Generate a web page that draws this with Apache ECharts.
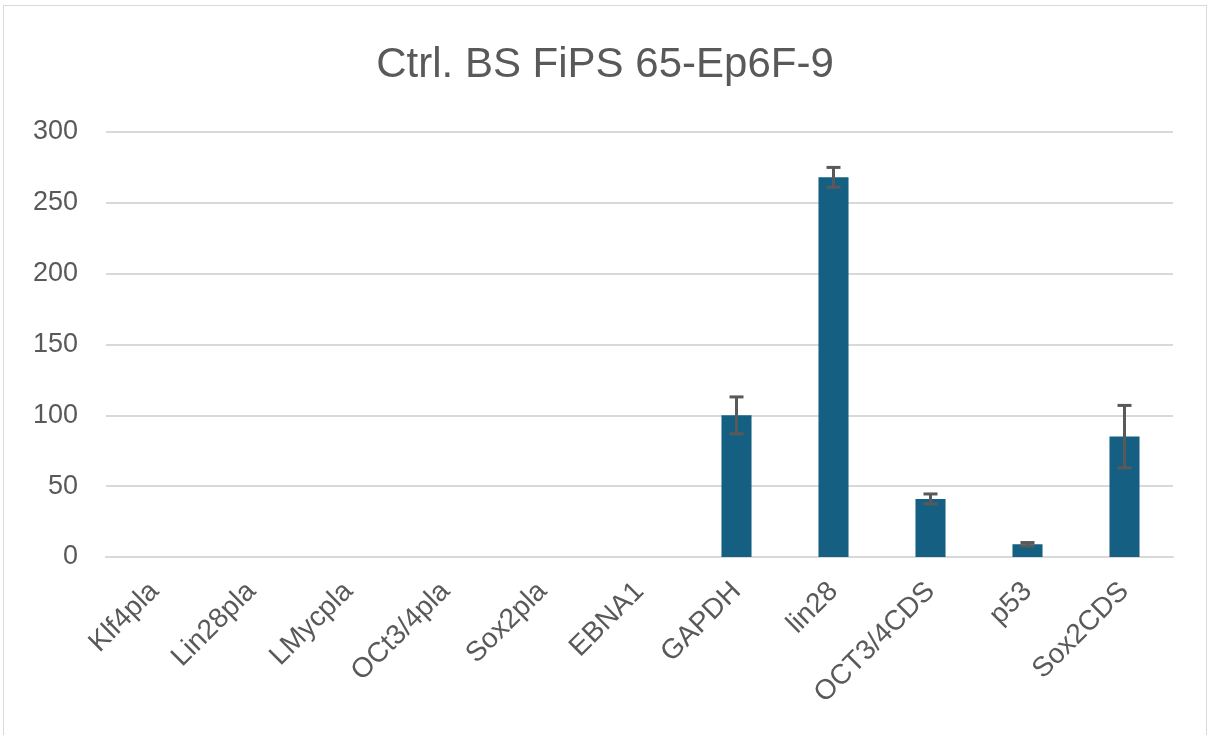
<!DOCTYPE html>
<html>
<head>
<meta charset="utf-8">
<script src="https://cdn.jsdelivr.net/npm/echarts@6/dist/echarts.min.js"></script>
<style>
  html, body { margin: 0; padding: 0; background: #fff; }
  #main { position: absolute; left: 3px; top: 5px; width: 1204px; height: 732px;
          border: 1px solid #d9d9d9; border-bottom: none; box-sizing: border-box; }
</style>
</head>
<body>
<div id="main"></div>
<script>
// genes on the x axis
const categories = ["Klf4pla", "Lin28pla", "LMycpla", "OCt3/4pla", "Sox2pla", "EBNA1",
  "GAPDH", "lin28", "OCT3/4CDS", "p53", "Sox2CDS"];
// mean values and error (+/-)
const values = [0, 0, 0, 0, 0, 0, 100, 268, 41, 9, 85];
const errors = [0, 0, 0, 0, 0, 0, 13, 7, 3.5, 1.2, 22];
const yTicks = [0, 50, 100, 150, 200, 250, 300];

const chart = echarts.init(document.getElementById("main"));

const errorData = categories.map((c, i) => [i, values[i] - errors[i], values[i] + errors[i]]);

chart.setOption({
  animation: false,
  title: {
    text: "Ctrl. BS FiPS 65-Ep6F-9",
    left: "center",
    top: 33,
    textStyle: { color: "#595959", fontSize: 42, fontWeight: "normal", fontFamily: "Liberation Sans" },
  },
  grid: { left: 102, right: 33, top: 126, bottom: 180 },
  xAxis: {
    type: "category",
    data: categories,
    axisLine: { show: true, lineStyle: { color: "#d9d9d9", width: 2 } },
    axisTick: { show: false },
    axisLabel: { rotate: 45, color: "#595959", fontSize: 28, margin: 30, interval: 0, fontFamily: "Liberation Sans" },
  },
  yAxis: {
    type: "value",
    min: yTicks[0],
    max: yTicks[yTicks.length - 1],
    interval: 50,
    axisLine: { show: false },
    axisTick: { show: false },
    splitLine: { lineStyle: { color: "#d9d9d9", width: 2 } },
    axisLabel: { color: "#595959", fontSize: 27, margin: 28, fontFamily: "Liberation Sans" },
  },
  series: [
    {
      type: "bar",
      data: values,
      barWidth: "31%",
      itemStyle: { color: "#156082" },
    },
    {
      type: "custom",
      data: errorData,
      z: 10,
      renderItem: (params, api) => {
        if (api.value(2) === api.value(1)) return;
        const lo = api.coord([api.value(0), api.value(1)]);
        const hi = api.coord([api.value(0), api.value(2)]);
        const w = 7;
        const style = { stroke: "#595959", lineWidth: 3 };
        return {
          type: "group",
          children: [
            { type: "line", shape: { x1: hi[0], y1: hi[1], x2: lo[0], y2: lo[1] }, style },
            { type: "line", shape: { x1: hi[0] - w, y1: hi[1], x2: hi[0] + w, y2: hi[1] }, style },
            { type: "line", shape: { x1: lo[0] - w, y1: lo[1], x2: lo[0] + w, y2: lo[1] }, style },
          ],
        };
      },
    },
  ],
});
</script>
</body>
</html>
